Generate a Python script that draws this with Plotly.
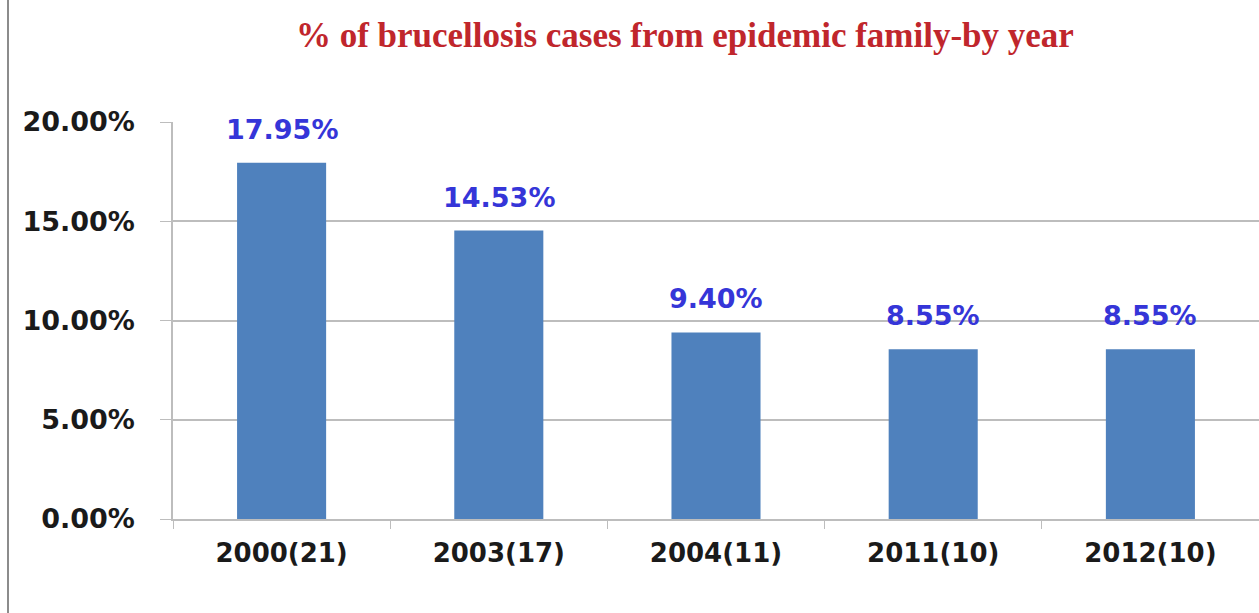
import plotly.graph_objects as go

# Share of brucellosis cases coming from an epidemic family, per survey year
categories = ["2000(21)", "2003(17)", "2004(11)", "2011(10)", "2012(10)"]
share = [0.1795, 0.1453, 0.0940, 0.0855, 0.0855]
y_ticks = [0.0, 0.05, 0.10, 0.15, 0.20]
y_tick_text = ["0.00%", "5.00%", "10.00%", "15.00%", "20.00%"]

labels = [f"{v * 100:.2f}%" for v in share]

fig = go.Figure(
    go.Bar(
        x=categories,
        y=share,
        marker=dict(color="#4F81BD", line=dict(width=0)),
        width=0.41,
        cliponaxis=False,
    )
)

# Value labels floating above each bar
for cat, val, lab in zip(categories, share, labels):
    fig.add_annotation(
        x=cat,
        y=val,
        text=f"<b>{lab}</b>",
        showarrow=False,
        xanchor="center",
        yanchor="bottom",
        yshift=16,
        font=dict(family="DejaVu Sans", size=27, color="#3535D8"),
    )

fig.update_layout(
    width=1259,
    height=613,
    margin=dict(l=173, r=0, t=122, b=94),
    paper_bgcolor="white",
    plot_bgcolor="white",
    showlegend=False,
    title=dict(
        text="<b>% of brucellosis cases from epidemic family-by year</b>",
        font=dict(family="Liberation Serif", size=35, color="#C0262C"),
        x=0.544,
        xanchor="center",
        y=0.943,
        yanchor="middle",
    ),
)

fig.update_yaxes(
    range=[0, 0.20],
    tickvals=y_ticks,
    ticktext=[f"<b>{t}</b>" for t in y_tick_text],
    tickfont=dict(family="DejaVu Sans", size=27, color="#1A1A1A"),
    showgrid=True,
    gridcolor="#BDBDBD",
    gridwidth=1.5,
    showline=True,
    linecolor="#BDBDBD",
    linewidth=1.5,
    ticks="outside",
    ticklen=11,
    tickcolor="#BDBDBD",
    zeroline=False,
    ticklabelstandoff=20,
)

fig.update_xaxes(
    tickvals=categories,
    ticktext=[f"<b>{c}</b>" for c in categories],
    tickfont=dict(family="DejaVu Sans", size=26, color="#1A1A1A"),
    showline=True,
    linecolor="#BDBDBD",
    linewidth=1.5,
    ticks="outside",
    tickson="boundaries",
    ticklen=8,
    tickcolor="#BDBDBD",
    showgrid=False,
    ticklabelstandoff=10,
)

# Thin frame line down the left edge of the page
fig.add_shape(
    type="line",
    xref="paper",
    yref="paper",
    x0=-165 / 1086,
    x1=-165 / 1086,
    y0=-94 / 397,
    y1=(397 + 122) / 397,
    line=dict(color="#8C8C8C", width=2),
)

fig.write_html("out.html")
